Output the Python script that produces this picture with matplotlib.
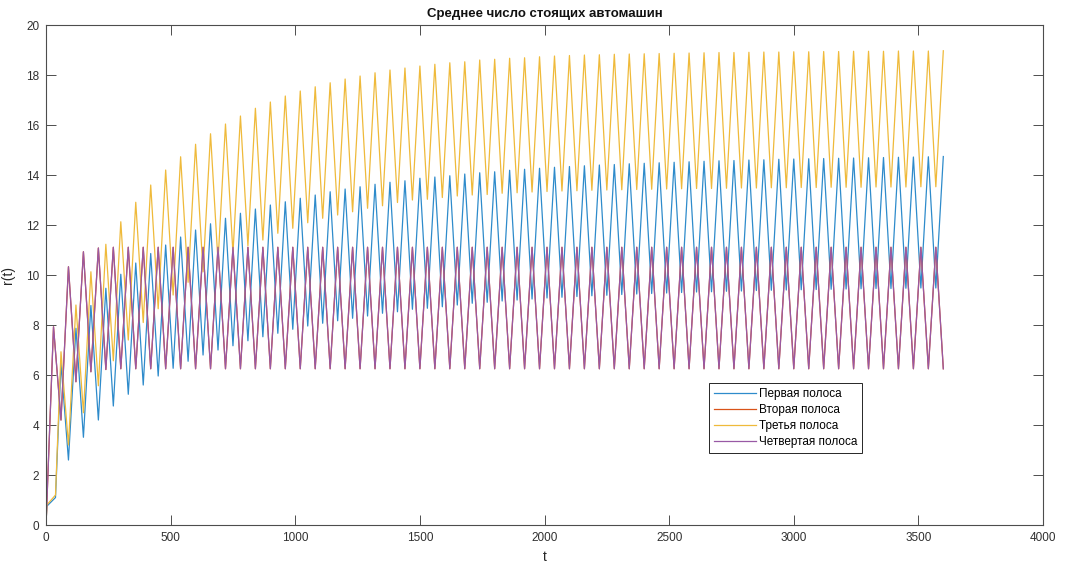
import matplotlib.pyplot as plt
import numpy as np

# Peak / trough values of r(t) for each lane, one per 60-unit cycle
# First lane: peaks at t = 60, 120, ..., 3600; troughs at t = 90, 150, ..., 3570
lane1_peaks = [6.47, 7.87, 8.78, 9.47, 10.03, 10.48, 10.86, 11.2, 11.52, 11.8,
               12.05, 12.27, 12.47, 12.64, 12.8, 12.93, 13.07, 13.2, 13.33, 13.44,
               13.53, 13.63, 13.71, 13.77, 13.87, 13.92, 13.97, 14.04, 14.09, 14.13,
               14.19, 14.23, 14.27, 14.31, 14.34, 14.37, 14.4, 14.42, 14.45, 14.47,
               14.49, 14.51, 14.53, 14.55, 14.57, 14.58, 14.6, 14.61, 14.63, 14.64,
               14.65, 14.66, 14.67, 14.68, 14.69, 14.7, 14.71, 14.72, 14.73, 14.74]
lane1_troughs = [2.6, 3.51, 4.2, 4.76, 5.23, 5.6, 5.96, 6.27, 6.55, 6.8,
                 7.0, 7.17, 7.37, 7.53, 7.67, 7.83, 7.96, 8.07, 8.17, 8.27,
                 8.36, 8.47, 8.53, 8.63, 8.67, 8.73, 8.8, 8.87, 8.91, 8.96,
                 9.0, 9.04, 9.08, 9.11, 9.14, 9.17, 9.19, 9.22, 9.24, 9.26,
                 9.28, 9.3, 9.32, 9.33, 9.35, 9.36, 9.38, 9.39, 9.4, 9.41,
                 9.42, 9.43, 9.44, 9.45, 9.46, 9.46, 9.47, 9.48, 9.48]

# Third lane, same phase as the first one
lane3_peaks = [6.93, 8.8, 10.13, 11.23, 12.13, 12.91, 13.6, 14.2, 14.73, 15.23,
               15.65, 16.04, 16.36, 16.67, 16.92, 17.16, 17.36, 17.53, 17.69, 17.84,
               17.96, 18.09, 18.2, 18.28, 18.36, 18.43, 18.49, 18.53, 18.6, 18.63,
               18.67, 18.69, 18.73, 18.76, 18.78, 18.8, 18.81, 18.83, 18.84, 18.85,
               18.86, 18.87, 18.88, 18.89, 18.9, 18.9, 18.91, 18.92, 18.92, 18.93,
               18.93, 18.94, 18.94, 18.95, 18.95, 18.95, 18.96, 18.96, 18.96, 18.97]
lane3_troughs = [3.2, 4.49, 5.57, 6.57, 7.4, 8.1, 8.65, 9.2, 9.71, 10.13,
                 10.53, 10.87, 11.17, 11.4, 11.67, 11.87, 12.09, 12.27, 12.4, 12.53,
                 12.67, 12.77, 12.9, 13.0, 13.03, 13.1, 13.16, 13.2, 13.22, 13.27,
                 13.29, 13.32, 13.34, 13.36, 13.37, 13.39, 13.4, 13.41, 13.42, 13.43,
                 13.44, 13.45, 13.46, 13.46, 13.47, 13.48, 13.48, 13.49, 13.49, 13.5,
                 13.5, 13.51, 13.51, 13.51, 13.52, 13.52, 13.52, 13.53, 13.53]

# Start-up segment before the first peak (lanes 1 and 3)
t_start = [0, 3, 38]
lane1_start = [0.0, 0.75, 1.1]
lane3_start = [0.0, 0.8, 1.2]

# Second and fourth lanes: troughs at t = 0, 60, ..., 3600; peaks at t = 30, 90, ..., 3570
lane4_troughs = [0.0, 4.2, 5.73, 6.13, 6.22] + [6.25] * 56
lane4_peaks = [7.93, 10.33, 10.93, 11.08] + [11.11] * 56
lane2_troughs = [0.0, 4.2, 5.73, 6.13, 6.22] + [6.25] * 56
lane2_peaks = [7.93, 10.33, 10.93, 11.08] + [11.11] * 56

labels = ["Первая полоса", "Вторая полоса", "Третья полоса", "Четвертая полоса"]
colors = ["#2E8BCB", "#D95319", "#EFBA3B", "#9859A5"]


def interleave(first, second):
    out = np.empty(len(first) + len(second))
    out[0::2] = first
    out[1::2] = second
    return out


t_osc = np.arange(60, 3601, 30)
t_full = np.arange(0, 3601, 30)

t13 = np.concatenate([t_start, t_osc])
r1 = np.concatenate([lane1_start, interleave(lane1_peaks, lane1_troughs)])
r3 = np.concatenate([lane3_start, interleave(lane3_peaks, lane3_troughs)])
r2 = interleave(lane2_troughs, lane2_peaks)
r4 = interleave(lane4_troughs, lane4_peaks)

plt.rcParams["font.family"] = ["Liberation Sans", "DejaVu Sans"]
axis_gray = "#4d4d4d"

fig = plt.figure(figsize=(10.68, 5.66), dpi=100)
ax = fig.add_axes([0.0431, 0.0724, 0.9335, 0.8834])

ax.plot(t13, r1, color=colors[0], lw=0.9, label=labels[0])
ax.plot(t_full, r2, color=colors[1], lw=0.9, label=labels[1])
ax.plot(t13, r3, color=colors[2], lw=0.9, label=labels[2])
ax.plot(t_full, r4, color=colors[3], lw=0.9, label=labels[3])

ax.set_xlim(0, 4000)
ax.set_ylim(0, 20)
ax.set_xticks(np.arange(0, 4001, 500))
ax.set_yticks(np.arange(0, 21, 2))
ax.tick_params(direction="in", top=True, right=True, length=7, width=0.7,
               colors=axis_gray, labelsize=8.5, labelcolor="#303030", pad=5)
for side in ax.spines.values():
    side.set_color(axis_gray)
    side.set_linewidth(0.8)

ax.set_xlabel("t", fontsize=10, color="#262626", labelpad=4)
ax.set_ylabel("r(t)", fontsize=10, color="#262626", labelpad=8)
ax.set_title("Среднее число стоящих автомашин", fontsize=9.5, fontweight="bold",
             color="#111111", pad=6)

leg = ax.legend(loc="lower left", bbox_to_anchor=(0.665, 0.144), fontsize=8.5,
                fancybox=False, framealpha=1, edgecolor="#262626",
                handlelength=3.6, handletextpad=0.2, borderpad=0.4,
                labelspacing=0.35, borderaxespad=0)
leg.get_frame().set_linewidth(0.7)

plt.savefig("out.png", dpi=100)
